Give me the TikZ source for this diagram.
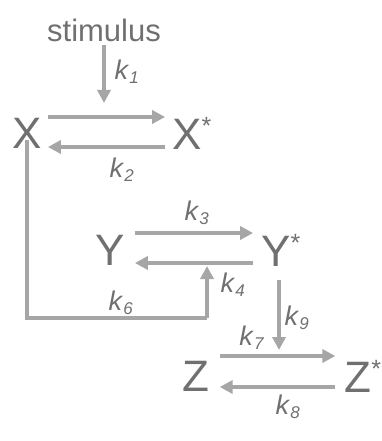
\documentclass[tikz,border=0pt]{standalone}
\usepackage{fontspec}
\setmainfont{Liberation Sans}
\usetikzlibrary{arrows.meta}
\definecolor{txt}{HTML}{707070}
\definecolor{arr}{HTML}{A6A6A6}
\newcommand{\kl}[1]{\textit{k}\textsubscript{\fontsize{17}{17}\selectfont\textit{#1}}}
\newcommand{\st}{\rlap{\raisebox{15pt}{\fontsize{25}{25}\selectfont *}}}
\begin{document}
\begin{tikzpicture}[x=1pt,y=-1pt,
  species/.style={text=txt,inner sep=0pt,font=\fontsize{44}{44}\selectfont},
  klab/.style={text=txt,inner sep=0pt,font=\fontsize{27}{27}\selectfont},
  arrw/.style={draw=arr,line width=3.4pt,-{Triangle[length=13pt,width=13pt]}},
  plain/.style={draw=arr,line width=3.4pt}]
\useasboundingbox (0,0) rectangle (382,441);
\node[text=txt,inner sep=0pt,font=\fontsize{31}{31}\selectfont] (stim) at (104,30) {stimulus};
\node[species] (X) at (27,133) {X};
\node[species] (Xs) at (187,133) {X\st};
\node[species] (Y) at (110,250) {Y};
\node[species] (Ys) at (276,250) {Y\st};
\node[species] (Z) at (196,376) {Z};
\node[species] (Zs) at (358,376) {Z\st};
% labels
\node[klab] (k1) at (127,72) {\kl{1}};
\node[klab] (k2) at (122,170) {\kl{2}};
\node[klab] (k3) at (197,213) {\kl{3}};
\node[klab] (k4) at (233,285) {\kl{4}};
\node[klab] (k6) at (121,303) {\kl{6}};
\node[klab] (k9) at (297,318) {\kl{9}};
\node[klab] (k7) at (252,338) {\kl{7}};
\node[klab] (k8) at (288,407) {\kl{8}};
% connectors
\coordinate (s0) at (stim.south |- 0,45);
\coordinate (s1) at (stim.south |- 0,103);
\draw[arrw] (s0) -- (s1);
\draw[arrw] ([shift={(6,-16)}]X.east) -- ([shift={(-7,-16)}]Xs.west);
\draw[arrw] ([shift={(-7,14)}]Xs.west) -- ([shift={(6,14)}]X.east);
\draw[arrw] ([shift={(10,-17)}]Y.east) -- ([shift={(-8,-17)}]Ys.west);
\draw[arrw] ([shift={(-8,13)}]Ys.west) -- ([shift={(10,13)}]Y.east);
\draw[arrw] ([shift={(10,-20)}]Z.east) -- ([shift={(-9,-20)}]Zs.west);
\draw[arrw] ([shift={(-9,11)}]Zs.west) -- ([shift={(10,11)}]Z.east);
\coordinate (fb1) at (27,318);
\coordinate (fb2) at (207,318);
\coordinate (fb3) at (207,266);
\draw[plain] ([yshift=8pt]X.south) -- (fb1) -- (fb2);
\draw[arrw] (fb2) -- (fb3);
\coordinate (z0) at (279,280);
\coordinate (z1) at (279,350);
\draw[arrw] (z0) -- (z1);
\end{tikzpicture}
\end{document}
